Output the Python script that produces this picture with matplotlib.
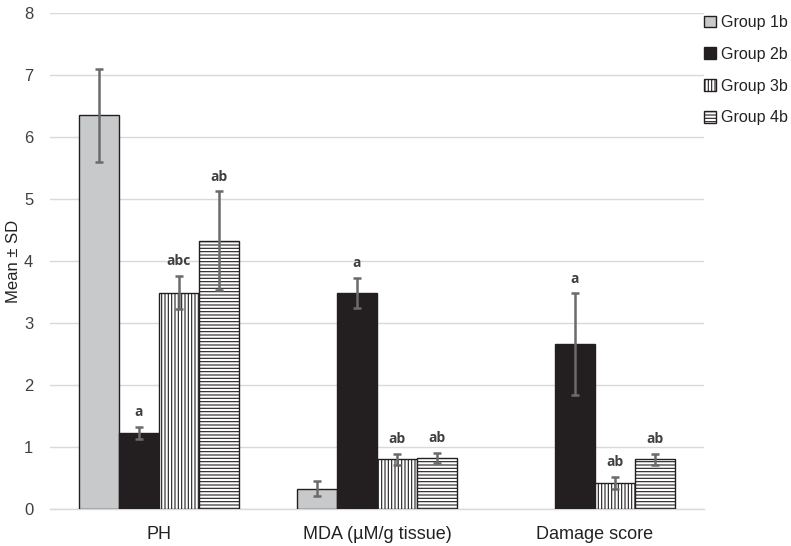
import numpy as np
import matplotlib
matplotlib.use("Agg")
import matplotlib.pyplot as plt

categories = ["PH", "MDA (\u00b5M/g tissue)", "Damage score"]
groups = ["Group 1b", "Group 2b", "Group 3b", "Group 4b"]
means = {
    "Group 1b": [6.35, 0.33, np.nan],
    "Group 2b": [1.23, 3.49, 2.66],
    "Group 3b": [3.49, 0.80, 0.42],
    "Group 4b": [4.33, 0.82, 0.80],
}
sds = {
    "Group 1b": [0.75, 0.12, np.nan],
    "Group 2b": [0.10, 0.24, 0.82],
    "Group 3b": [0.27, 0.09, 0.10],
    "Group 4b": [0.80, 0.085, 0.09],
}
sig_labels = {
    "Group 1b": ["", "", ""],
    "Group 2b": ["a", "a", "a"],
    "Group 3b": ["abc", "ab", "ab"],
    "Group 4b": ["ab", "ab", "ab"],
}
yticks = [0, 1, 2, 3, 4, 5, 6, 7, 8]

styles = {
    "Group 1b": dict(facecolor="#c8c9cb", hatch=None),
    "Group 2b": dict(facecolor="#231f20", hatch=None),
    "Group 3b": dict(facecolor="white", hatch="|||||"),
    "Group 4b": dict(facecolor="white", hatch="-----"),
}

plt.rcParams["font.family"] = ["Liberation Sans", "DejaVu Sans"]
plt.rcParams["hatch.linewidth"] = 0.8
plt.rcParams["hatch.color"] = "#231f20"

fig = plt.figure(figsize=(7.91, 5.46), dpi=100)
ax = fig.add_axes([50 / 791, 37 / 546, 654 / 791, 496 / 546])

x = np.arange(len(categories))
w = 0.1835
offsets = [-1.5, -0.5, 0.5, 1.5]

for gi, g in enumerate(groups):
    m = np.array(means[g], dtype=float)
    s = np.array(sds[g], dtype=float)
    xs = x + offsets[gi] * w
    ok = ~np.isnan(m)
    ax.bar(xs[ok], m[ok], width=w, facecolor=styles[g]["facecolor"],
           hatch=styles[g]["hatch"], edgecolor="#231f20", linewidth=1.0,
           label=g, zorder=3)
    ax.errorbar(xs[ok], m[ok], yerr=s[ok], fmt="none", ecolor="#6b6b6b",
                elinewidth=1.8, capsize=2.7, capthick=1.8, zorder=4)
    for xi, mi, si, lab in zip(xs[ok], m[ok], s[ok], np.array(sig_labels[g])[ok]):
        if lab:
            ax.annotate(lab, (xi, mi + si), xytext=(0, 7.5), textcoords="offset points",
                        ha="center", va="baseline", fontsize=10, fontweight="bold",
                        family=["Open Sans", "DejaVu Sans"], color="#404040", zorder=5)

ax.set_xlim(-0.5, 2.5)
ax.set_ylim(0, 8)
ax.set_yticks(yticks)
ax.set_xticks(x)
ax.set_xticklabels(categories, fontsize=13, color="#222222")
ax.tick_params(axis="x", length=0, pad=12)
ax.tick_params(axis="y", length=0, pad=12, labelsize=12, labelcolor="#404040")
ax.set_ylabel("Mean \u00b1 SD", fontsize=12, color="#222222", labelpad=2)
ax.yaxis.grid(True, color="#d9d9d9", linewidth=1.0, zorder=0)
ax.set_axisbelow(True)
for sp in ["left", "right", "top"]:
    ax.spines[sp].set_visible(False)
ax.spines["bottom"].set_color("#d9d9d9")
ax.spines["bottom"].set_linewidth(1.0)

leg = ax.legend(loc="upper left", bbox_to_anchor=(704 / 791, 1.0 - 15 / 546),
                bbox_transform=fig.transFigure, frameon=False, fontsize=11.5,
                handlelength=0.75, handleheight=0.75, handletextpad=0.3,
                labelspacing=1.05, borderpad=0, borderaxespad=0)
for t in leg.get_texts():
    t.set_color("#222222")

fig.savefig("out.png", dpi=100)
